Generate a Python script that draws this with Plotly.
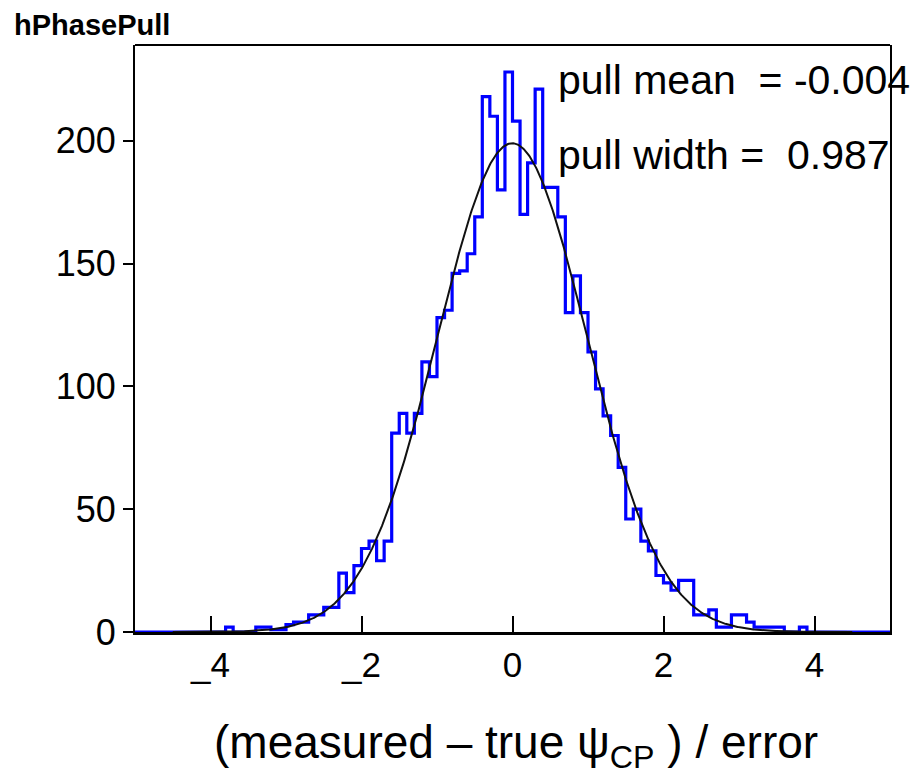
import numpy as np
import plotly.graph_objects as go

# ---------------- data ----------------
bin_width = 0.1
bin_left_edges = [round(-5.0 + 0.1 * i, 1) for i in range(100)]
counts = [
    0, 0, 0, 0, 0, 0, 0, 0, 0, 0,          # -5.0 .. -4.1
    0, 0, 2, 0, 0, 0, 2, 2, 1, 1,          # -4.0 .. -3.1
    3, 4, 4, 7, 7, 10, 10, 24, 16, 27,     # -3.0 .. -2.1
    34, 37, 29, 37, 81, 89, 81, 89, 110, 104,   # -2.0 .. -1.1
    128, 131, 146, 147, 154, 169, 218, 210, 180, 228,  # -1.0 .. -0.1
    208, 170, 191, 221, 181, 181, 169, 130, 145, 130,  # 0.0 .. 0.9
    114, 99, 88, 80, 67, 46, 50, 37, 33, 23,   # 1.0 .. 1.9
    20, 17, 21, 21, 7, 7, 9, 2, 2, 7,      # 2.0 .. 2.9
    7, 4, 2, 2, 2, 2, 0, 0, 2, 0,          # 3.0 .. 3.9
    0, 0, 0, 0, 0, 0, 0, 0, 0, 0,          # 4.0 .. 4.9
]
fit_amplitude = 199.0
fit_mean = -0.004
fit_sigma = 0.987

x_tick_vals = [-4, -2, 0, 2, 4]
x_tick_text = ["_4", "_2", "0", "2", "4"]
y_tick_vals = [0, 50, 100, 150, 200]
y_tick_text = ["0", "50", "100", "150", "200"]

hist_title = "hPhasePull"
stat_lines = ["pull mean\u00a0\u00a0= -0.004", "pull width =\u00a0\u00a00.987"]
x_title = "(measured \u2013 true \u03c8<sub>CP</sub> ) / error"

# ---------------- figure ----------------
step_x = bin_left_edges + [bin_left_edges[-1] + bin_width]
step_y = counts + [counts[-1]]

fx = np.linspace(-4.5, 4.5, 901)
fy = fit_amplitude * np.exp(-0.5 * ((fx - fit_mean) / fit_sigma) ** 2)

FONT = "Liberation Sans, Arial, sans-serif"

fig = go.Figure()
fig.add_trace(go.Scatter(
    x=step_x, y=step_y, mode="lines", line=dict(color="#0000ff", width=3.2, shape="hv"),
    showlegend=False, hoverinfo="skip", cliponaxis=True,
))
fig.add_trace(go.Scatter(
    x=fx, y=fy, mode="lines", line=dict(color="#111111", width=2),
    showlegend=False, hoverinfo="skip",
))

fig.update_layout(
    width=923, height=775,
    margin=dict(l=135, r=33, t=45, b=143, pad=0),
    paper_bgcolor="white", plot_bgcolor="white",
    font=dict(family=FONT, color="black"),
    xaxis=dict(
        range=[-5, 5], tickmode="array", tickvals=x_tick_vals, ticktext=x_tick_text,
        ticks="inside", ticklen=16, tickwidth=2, tickcolor="black",
        showline=True, linecolor="black", linewidth=3, mirror=False,
        showgrid=False, zeroline=False,
        tickfont=dict(size=35, family=FONT, color="black"),
    ),
    yaxis=dict(
        range=[0, 239], tickmode="array", tickvals=y_tick_vals, ticktext=y_tick_text,
        ticks="outside", ticklen=10, tickwidth=2, tickcolor="black",
        showline=True, linecolor="black", linewidth=2, mirror=True,
        showgrid=False, zeroline=False,
        tickfont=dict(size=36, family=FONT, color="black"),
    ),
    shapes=[dict(type="line", xref="paper", yref="paper", x0=0, x1=1, y0=1, y1=1,
                 line=dict(color="black", width=2))],
    annotations=[
        dict(text="<b>" + hist_title + "</b>", xref="paper", yref="paper",
             x=(12 - 135) / 755, y=(632 - 7) / 587, xanchor="left", yanchor="top",
             showarrow=False, font=dict(size=29, family=FONT, color="black")),
        dict(text=stat_lines[0], xref="paper", yref="paper",
             x=(556 - 135) / 755, y=(632 - 80) / 587, xanchor="left", yanchor="middle",
             showarrow=False, font=dict(size=41, family=FONT, color="black")),
        dict(text=stat_lines[1], xref="paper", yref="paper",
             x=(556 - 135) / 755, y=(632 - 155) / 587, xanchor="left", yanchor="middle",
             showarrow=False, font=dict(size=41, family=FONT, color="black")),
        dict(text=x_title, xref="paper", yref="paper",
             x=(516 - 135) / 755, y=(632 - 745) / 587, xanchor="center", yanchor="middle",
             showarrow=False, font=dict(size=46, family=FONT, color="black")),
    ],
)

fig.write_html("out.html")
